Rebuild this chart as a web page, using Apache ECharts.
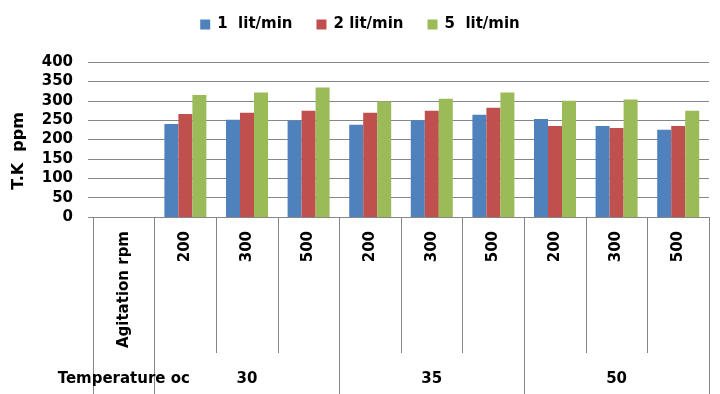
<!DOCTYPE html>
<html>
<head>
<meta charset="utf-8">
<script src="https://cdn.jsdelivr.net/npm/echarts@6/dist/echarts.min.js"></script>
<style>html,body{margin:0;padding:0;background:#fff}#c{width:720px;height:394px}</style>
</head>
<body>
<div id="c"></div>
<script>
var agitation = ['Agitation rpm', '200', '300', '500', '200', '300', '500', '200', '300', '500'];
var temperature = ['Temperature oc', '', '30', '', '', '35', '', '', '50', ''];
var groupStarts = [0, 1, 4, 7];
var seriesNames = ['1  lit/min', '2 lit/min', '5  lit/min'];
var flow1 = [null, 240, 251, 249, 238, 250, 264, 253, 235, 225];
var flow2 = [null, 266, 269, 274, 269, 274, 282, 235, 230, 235];
var flow5 = [null, 315, 321, 334, 298, 305, 321, 300, 303, 274];
var yTicks = {min: 0, max: 400, interval: 50};

var FONT = 'DejaVu Sans';
var GRAY = '#868686';
var chart = echarts.init(document.getElementById('c'), null, {renderer: 'canvas'});
var colors = ['#4F81BD', '#C0504D', '#9BBB59'];
var values = [flow1, flow2, flow5];
chart.setOption({
  animation: false,
  color: colors,
  textStyle: {fontFamily: FONT},
  legend: {
    top: 12, left: 'center',
    itemWidth: 10, itemHeight: 10, itemGap: 24,
    icon: 'rect',
    textStyle: {fontFamily: FONT, fontWeight: 'bold', fontSize: 15, color: '#000', padding: [0, 0, 0, 2]},
    data: seriesNames
  },
  grid: {left: 93, right: 11, top: 62, bottom: 177, containLabel: false},
  xAxis: [{
    type: 'category', data: agitation, position: 'bottom',
    axisLine: {show: true, lineStyle: {color: GRAY, width: 1}},
    axisTick: {show: true, interval: 0, length: 136, lineStyle: {color: GRAY, width: 1}},
    axisLabel: {interval: 0, rotate: 90, margin: 14, fontFamily: FONT, fontWeight: 'bold', fontSize: 15, color: '#000'},
    splitLine: {show: false}
  }, {
    type: 'category', data: temperature, position: 'bottom',
    axisLine: {show: false},
    axisTick: {show: true, length: 180, interval: function (i) { return groupStarts.indexOf(i) >= 0; }, lineStyle: {color: GRAY, width: 1}},
    axisLabel: {interval: 0, margin: 155, fontFamily: FONT, fontWeight: 'bold', fontSize: 15, color: '#000'},
    splitLine: {show: false}
  }],
  yAxis: {
    type: 'value', min: yTicks.min, max: yTicks.max, interval: yTicks.interval,
    axisLine: {show: false},
    axisTick: {show: true, length: 5, lineStyle: {color: GRAY, width: 1}},
    axisLabel: {margin: 20, fontFamily: FONT, fontWeight: 'bold', fontSize: 15, color: '#000'},
    splitLine: {show: true, lineStyle: {color: GRAY, width: 1}}
  },
  graphic: [{
    type: 'text', x: 19, y: 151, rotation: Math.PI / 2,
    style: {text: 'T.K  ppm', fontFamily: FONT, fontWeight: 'bold', fontSize: 16, fill: '#000', align: 'center', verticalAlign: 'middle'}
  }],
  series: seriesNames.map(function (n, k) {
    return {name: n, type: 'bar', xAxisIndex: 0, data: values[k], barWidth: 14, barGap: '0%'};
  })
});
</script>
</body>
</html>
